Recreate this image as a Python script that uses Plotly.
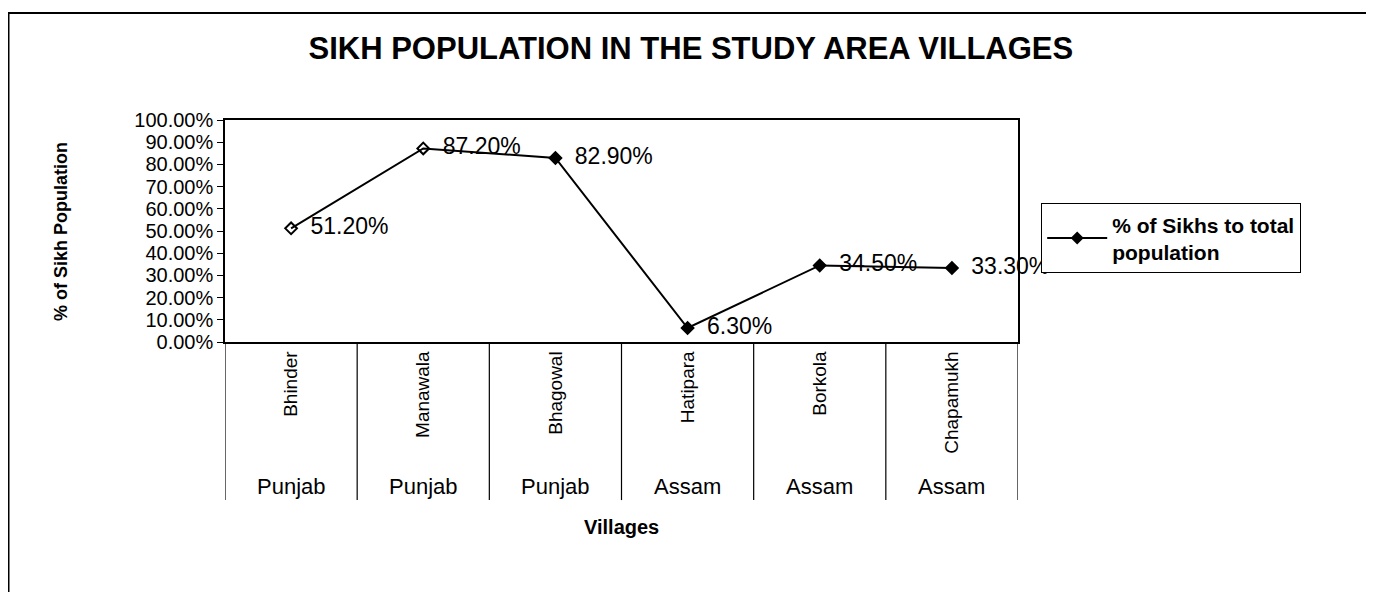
import plotly.graph_objects as go

villages = ["Bhinder", "Manawala", "Bhagowal", "Hatipara", "Borkola", "Chapamukh"]
states = ["Punjab", "Punjab", "Punjab", "Assam", "Assam", "Assam"]
sikh_share = [0.512, 0.872, 0.829, 0.063, 0.345, 0.333]
series_name = "% of Sikhs to total<br>population"
title_text = "SIKH POPULATION IN THE STUDY AREA VILLAGES"
y_title = "% of Sikh Population"
x_title = "Villages"

FONT = "Liberation Sans, Arial, sans-serif"

labels = [f"  {v*100:.2f}%" for v in sikh_share]
symbols = ["diamond-open", "diamond-open", "diamond", "diamond", "diamond", "diamond"]

fig = go.Figure()
fig.add_trace(go.Scatter(
    x=villages, y=sikh_share, mode="lines+markers+text",
    name=series_name, showlegend=False,
    text=labels, textposition="middle right",
    textfont=dict(family=FONT, size=23, color="black"),
    line=dict(color="black", width=2),
    marker=dict(symbol=symbols, size=9, color="black",
                line=dict(color="black", width=2)),
    cliponaxis=False,
))
# legend entry (filled diamond as in the original legend)
fig.add_trace(go.Scatter(
    x=[None], y=[None], mode="lines+markers", name=series_name,
    line=dict(color="black", width=2),
    marker=dict(symbol="diamond", size=10, color="black"),
))

n = len(villages)
shapes = []
for i in range(n + 1):
    shapes.append(dict(type="line", xref="x", yref="paper",
                       x0=i - 0.5, x1=i - 0.5, y0=0, y1=-0.712,
                       line=dict(color="black", width=1.2)))
# outer chart border
shapes.append(dict(type="rect", xref="paper", yref="paper",
                   x0=-0.273, x1=1.47, y0=-1.3, y1=1.482,
                   line=dict(color="black", width=2), fillcolor="rgba(0,0,0,0)",
                   layer="below"))

annotations = []
for v, s in zip(villages, states):
    annotations.append(dict(x=v, y=-0.653, xref="x", yref="paper", text=s,
                            showarrow=False, yanchor="middle",
                            font=dict(family=FONT, size=22, color="black")))
annotations.append(dict(x=0.5, y=-0.833, xref="paper", yref="paper",
                        text=f"<b>{x_title}</b>", showarrow=False, yanchor="middle",
                        font=dict(family=FONT, size=20, color="black")))
annotations.append(dict(x=-0.222, y=0.5, xref="paper", yref="paper",
                        text=f"<b>{y_title}</b>", textangle=-90, showarrow=False,
                        font=dict(family=FONT, size=18, color="black")))

fig.update_layout(
    width=1374, height=592,
    margin=dict(l=217, r=364, t=112, b=258),
    paper_bgcolor="white", plot_bgcolor="white",
    title=dict(text=f"<b>{title_text}</b>", x=0.497, xanchor="center",
               y=0.932, yanchor="middle",
               font=dict(family=FONT, size=31, color="black")),
    showlegend=True,
    legend=dict(x=1.029, y=0.626, xanchor="left", yanchor="top",
                bordercolor="black", borderwidth=1.2, bgcolor="white",
                font=dict(family=FONT, size=21, color="black", weight="bold"),
                itemwidth=60, tracegroupgap=0),
    xaxis=dict(type="category", showline=True, linecolor="black", linewidth=1.5,
               mirror=True, showgrid=False, ticks="", tickangle=-90,
               tickfont=dict(family=FONT, size=19, color="black"),
               range=[-0.5, n - 0.5]),
    yaxis=dict(range=[0, 1], dtick=0.1, tickformat=".2%", showline=True,
               linecolor="black", linewidth=1.5, mirror=True, showgrid=False,
               ticks="outside", ticklen=6, tickcolor="black",
               tickfont=dict(family=FONT, size=20, color="black")),
    shapes=shapes, annotations=annotations,
)

fig.write_html("out.html")
